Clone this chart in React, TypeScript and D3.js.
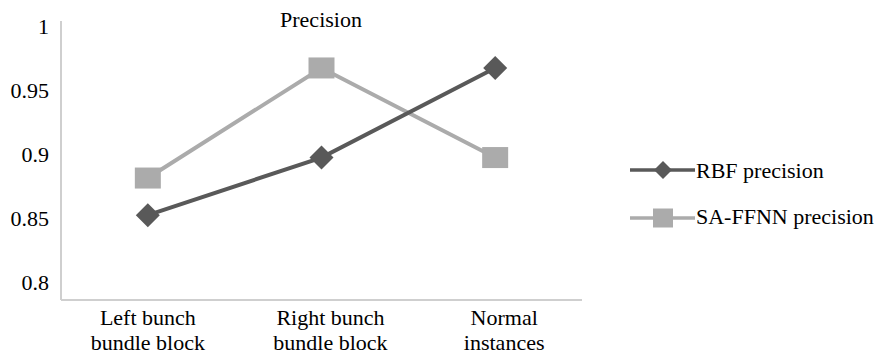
import React from "react";
import * as d3 from "d3";

const categories: string[][] = [
  ["Left bunch", "bundle block"],
  ["Right bunch", "bundle block"],
  ["Normal", "instances"],
];
const rbfPrecision = [0.853, 0.898, 0.968];
const saffnnPrecision = [0.882, 0.968, 0.898];
const yTicks = [0.8, 0.85, 0.9, 0.95, 1];
const yTickLabels = ["0.8", "0.85", "0.9", "0.95", "1"];
const seriesNames = ["RBF precision", "SA-FFNN precision"];
const title = "Precision";

const W = 887;
const H = 358;
const FONT = "Liberation Serif, Times New Roman, Times, DejaVu Serif, serif";

export default function App() {
  const plotLeft = 61;
  const plotRight = 582;
  const plotTop = 21;
  const plotBottom = 300;

  const x = d3
    .scaleBand<number>()
    .domain(categories.map((_, i) => i))
    .range([plotLeft, plotRight])
    .padding(0);
  const cx = (i: number) => (x(i) as number) + x.bandwidth() / 2;
  const y = d3.scaleLinear().domain([0.8, 1]).range([283, 27]);

  const line = d3
    .line<number>()
    .x((_, i) => cx(i))
    .y((d) => y(d));

  const rbfColor = "#595959";
  const saColor = "#ababab";
  const ts = { fontFamily: FONT, fontSize: "22px" };

  const diamond = (px: number, py: number, r: number) =>
    `M${px},${py - r}L${px + r},${py}L${px},${py + r}L${px - r},${py}Z`;

  return (
    <svg
      width={W}
      height={H}
      style={{ position: "absolute", left: 0, top: 0, background: "#fff", fontFamily: FONT }}
    >
      <rect x={0} y={0} width={W} height={H} fill="#fff" />
      <line x1={plotLeft} y1={plotTop} x2={plotLeft} y2={plotBottom} stroke="#cfcfcf" strokeWidth={2} />
      <line x1={plotLeft} y1={plotBottom} x2={plotRight} y2={plotBottom} stroke="#cfcfcf" strokeWidth={2} />
      <text x={321} y={27} textAnchor="middle" style={ts} fill="#000">
        {title}
      </text>
      {yTicks.map((t, i) => (
        <text key={t} x={49} y={y(t) + 7} textAnchor="end" style={ts} fill="#000">
          {yTickLabels[i]}
        </text>
      ))}
      {categories.map((lines, i) => (
        <text key={i} y={325} textAnchor="middle" style={ts} fill="#000">
          {lines.map((l, j) => (
            <tspan key={j} x={cx(i) + (i === 0 ? 0 : 9)} dy={j === 0 ? 0 : 25}>
              {l}
            </tspan>
          ))}
        </text>
      ))}
      <path d={line(saffnnPrecision) || ""} fill="none" stroke={saColor} strokeWidth={4} />
      {saffnnPrecision.map((v, i) => (
        <rect key={i} x={cx(i) - 13} y={y(v) - 10.5} width={26} height={21} fill={saColor} />
      ))}
      <path d={line(rbfPrecision) || ""} fill="none" stroke={rbfColor} strokeWidth={4} />
      {rbfPrecision.map((v, i) => (
        <path key={i} d={diamond(cx(i), y(v), 12)} fill={rbfColor} />
      ))}
      <line x1={630} y1={170} x2={695} y2={170} stroke={rbfColor} strokeWidth={3.5} />
      <path d={diamond(663, 170, 9)} fill={rbfColor} />
      <text x={696} y={178} style={ts} fill="#000">
        {seriesNames[0]}
      </text>
      <line x1={630} y1={218} x2={695} y2={218} stroke={saColor} strokeWidth={3.5} />
      <rect x={653} y={208.5} width={20} height={19} fill={saColor} />
      <text x={696} y={224} style={ts} fill="#000">
        {seriesNames[1]}
      </text>
    </svg>
  );
}
